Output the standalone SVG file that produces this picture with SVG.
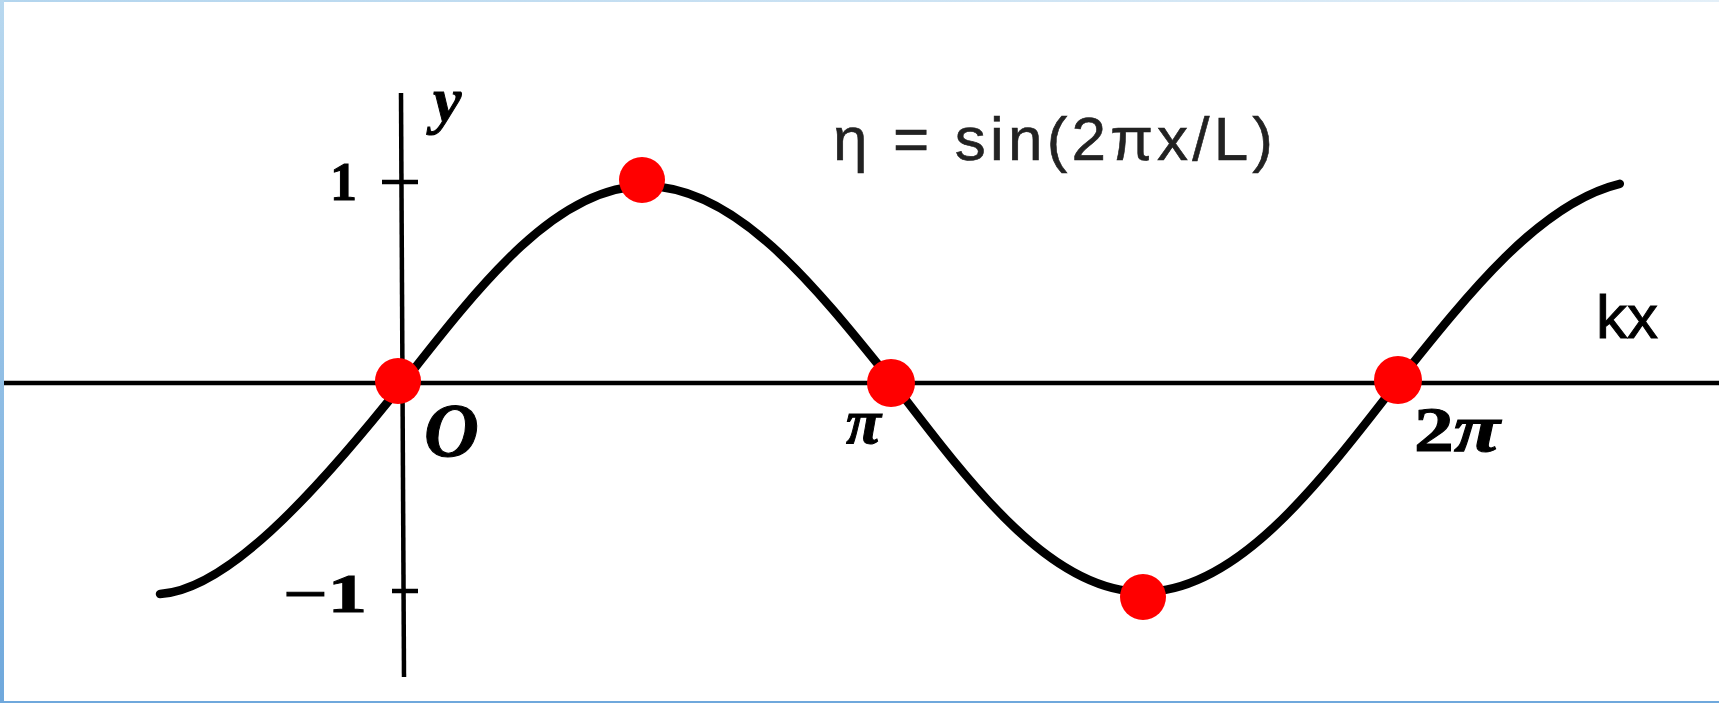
<svg xmlns="http://www.w3.org/2000/svg" width="1719" height="703" viewBox="0 0 1719 703">
<defs>
<linearGradient id="gTop" x1="0" y1="0" x2="1" y2="0"><stop offset="0" stop-color="#b3d5ee"/><stop offset="1" stop-color="#e3eff8"/></linearGradient>
<linearGradient id="gLeft" x1="0" y1="0" x2="0" y2="1"><stop offset="0" stop-color="#b8d8ef"/><stop offset="1" stop-color="#6fa8dc"/></linearGradient>
</defs>
<style>
.ax{stroke:#000;stroke-width:4.5;fill:none}
.tick{stroke:#000;stroke-width:4.5}
.wave{stroke:#000;stroke-width:8.5;fill:none;stroke-linecap:round}
.dot{fill:#f00}
.m{font-family:"Liberation Serif",serif;font-weight:bold;fill:#000;stroke:#000;stroke-width:1}
.mi{font-family:"Liberation Serif",serif;font-weight:bold;font-style:italic;fill:#000;stroke:#000;stroke-width:1}
.eq{font-family:"Liberation Sans",Arial,sans-serif;fill:#222;stroke:#222;stroke-width:0.6}
.kx{font-family:"Liberation Sans",Arial,sans-serif;fill:#000;stroke:#000;stroke-width:1}
</style>
<rect x="0" y="0" width="1719" height="703" fill="#fff"/>
<g id="frame">
<rect x="0" y="0" width="1719" height="2" fill="url(#gTop)"/>
<rect x="0" y="0" width="4" height="703" fill="url(#gLeft)"/>
<rect x="0" y="701" width="1719" height="2" fill="#6fa8dc"/>
</g>
<g id="axes">
<line class="ax" x1="4" y1="383" x2="1719" y2="383"/>
<line class="ax" x1="401" y1="93" x2="404" y2="677" stroke-width="4"/>
<line class="tick" x1="382" y1="182" x2="418" y2="182"/>
<line class="tick" x1="392" y1="591" x2="418" y2="591"/>
</g>
<g id="connectors">
<path id="sine" class="wave" d="M160,594 C225,590 310,500 403,383 C481.9,282.1 557.4,186 645,186 C734.8,186 812.1,282.1 893,383 C974.5,490.1 1052.5,592 1143,592 C1234.9,592 1314.2,490.1 1397,383 C1470.3,291 1540.8,202.8 1619.8,183.8"/>
</g>
<g id="points">
<circle id="p-origin" class="dot" cx="398" cy="381" r="23"/>
<circle id="p-peak" class="dot" cx="642" cy="180" r="23"/>
<circle id="p-pi" class="dot" cx="891" cy="383" r="24"/>
<circle id="p-trough" class="dot" cx="1143" cy="597" r="23"/>
<circle id="p-2pi" class="dot" cx="1398" cy="380" r="24"/>
</g>
<g id="labels">
<text id="lbl-y" class="mi" x="433" y="121" font-size="64">y</text>
<text id="lbl-1" class="m" x="330" y="200" font-size="54">1</text>
<text id="lbl-m1" class="m" x="283" y="612" font-size="54" textLength="84" lengthAdjust="spacingAndGlyphs">−1</text>
<text id="lbl-O" class="mi" x="424" y="456" font-size="76">O</text>
<text id="lbl-pi" class="mi" x="846" y="443" font-size="64">π</text>
<text id="lbl-2pi" class="m" x="1414" y="451" font-size="64" textLength="86" lengthAdjust="spacingAndGlyphs">2<tspan class="mi" font-size="68">π</tspan></text>
<text id="lbl-eq" class="eq" x="833" y="160" font-size="62" textLength="440" lengthAdjust="spacing">η = sin(2πx/L)</text>
<text id="lbl-kx" class="kx" x="1596" y="338" font-size="62">kx</text>
</g>
</svg>
